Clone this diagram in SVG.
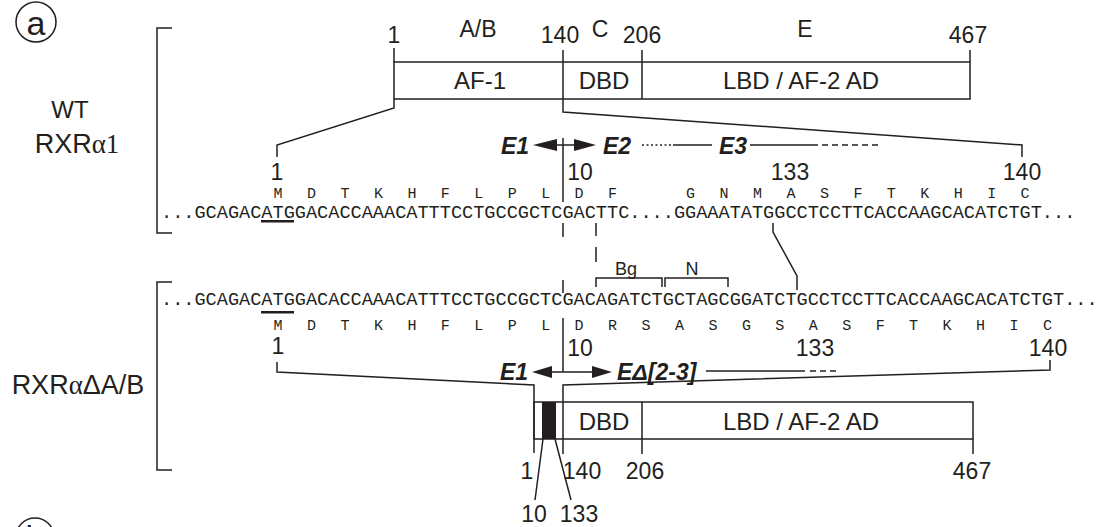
<svg xmlns="http://www.w3.org/2000/svg" width="1098" height="527" viewBox="0 0 1098 527">
<style>
.ln{fill:none;stroke:#231f20;stroke-width:1.5}
.bx{fill:#fff;stroke:#231f20;stroke-width:1.5}
.t{font-family:"Liberation Sans",Arial,sans-serif;fill:#231f20}
.n{font-size:23px;text-anchor:middle}
.bt{font-size:24px;text-anchor:middle}
.lab{font-size:24px;text-anchor:middle}
.lab2{font-size:27px;text-anchor:middle}
.e{font-size:23px;font-weight:bold;font-style:italic}
.dna{font-family:"Liberation Mono","Courier New",monospace;font-size:18.6px;fill:#231f20}
.aa{font-family:"Liberation Mono","Courier New",monospace;font-size:15px;fill:#231f20;text-anchor:middle}
.sr{font-family:"Liberation Serif","Times New Roman",serif}
.ah{fill:#231f20}
</style>

<g id="panel-a-label">
<circle cx="36" cy="22" r="20" class="ln"/>
<text x="36" y="35" class="t" font-size="34" text-anchor="middle">a</text>
</g>
<g id="panel-b-label">
<circle cx="35" cy="537" r="19" class="ln"/>
<text x="35" y="549" class="t" font-size="34" text-anchor="middle">b</text>
</g>

<g id="labels">
<text x="70" y="118" class="t lab">WT</text>
<text x="77" y="153" class="t lab2">RXR<tspan class="sr">α1</tspan></text>
<text x="78" y="394" class="t lab2">RXR<tspan class="sr">α</tspan>ΔA/B</text>
</g>

<g id="brackets">
<path class="ln" d="M172,28 H157 V233 H172"/>
<path class="ln" d="M172,282 H157 V470 H172"/>
</g>

<g id="wt-protein">
<rect x="394" y="62" width="576" height="37" class="bx"/>
<path class="ln" d="M394,48 V62 M563,50 V99 M642,50 V99 M970,50 V62"/>
<text x="480" y="89" class="t bt">AF-1</text>
<text x="604" y="89" class="t bt">DBD</text>
<text x="801" y="89" class="t bt">LBD / AF-2 AD</text>
<text x="394" y="43" class="t n">1</text>
<text x="478" y="37" class="t n">A/B</text>
<text x="560" y="43" class="t n">140</text>
<text x="600" y="37" class="t n">C</text>
<text x="642" y="43" class="t n">206</text>
<text x="805" y="37" class="t n">E</text>
<text x="968" y="43" class="t n">467</text>
</g>

<g id="wt-exons">
<text x="501" y="154" class="t e">E1</text>
<text x="603" y="154" class="t e">E2</text>
<text x="719" y="154" class="t e">E3</text>
</g>

<g id="wt-sequence">
<text x="277" y="180" class="t n">1</text>
<text x="580" y="180" class="t n">10</text>
<text x="790" y="180" class="t n">133</text>
<text x="1022" y="180" class="t n">140</text>
<text class="aa" y="198" x="278.1 311.5 345 378.4 411.9 445.3 478.8 512.2 545.7 579.1 612.6 690.6 724.1 757.5 791 824.4 857.9 891.3 924.8 958.2 991.7 1025.1">MDTKHFLPLDFGNMASFTKHIC</text>
<text class="dna" x="161" y="218" textLength="914.3" lengthAdjust="spacing">...GCAGACATGGACACCAAACATTTCCTGCCGCTCGACTTC....GGAAATATGGCCTCCTTCACCAAGCACATCTGT...</text>
<rect x="261" y="220" width="33" height="2.5" class="ah"/>
</g>

<g id="restriction-sites">
<path class="ln" d="M596,287 V278 H662 V287 M665,287 V278 H728 V287"/>
<text x="626" y="275" class="t" font-size="18" text-anchor="middle">Bg</text>
<text x="692" y="275" class="t" font-size="18" text-anchor="middle">N</text>
</g>

<g id="dab-sequence">
<text class="dna" x="161" y="305" textLength="936.6" lengthAdjust="spacing">...GCAGACATGGACACCAAACATTTCCTGCCGCTCGACAGATCTGCTAGCGGATCTGCCTCCTTCACCAAGCACATCTGT...</text>
<rect x="261" y="311" width="33" height="2.5" class="ah"/>
<text class="aa" y="330" x="278.1 311.5 345 378.4 411.9 445.3 478.8 512.2 545.7 579.1 612.6 646 679.5 712.9 746.4 779.8 813.3 846.7 880.2 913.6 947.1 980.5 1014 1047.4">MDTKHFLPLDRSASGSASFTKHIC</text>
<text x="278" y="354" class="t n">1</text>
<text x="580" y="356" class="t n">10</text>
<text x="815" y="356" class="t n">133</text>
<text x="1048" y="356" class="t n">140</text>
</g>

<g id="dab-exons">
<text x="500" y="380" class="t e">E1</text>
<text x="617" y="380" class="t e">EΔ[2-3]</text>
</g>

<g id="dab-protein">
<rect x="534" y="402" width="439" height="37" class="bx"/>
<rect x="542" y="402" width="14" height="37" fill="#231f20"/>
<path class="ln" d="M642,402 V454 M973,439 V454"/>
<text x="604" y="430" class="t bt">DBD</text>
<text x="801" y="430" class="t bt">LBD / AF-2 AD</text>
<text x="527" y="479" class="t n">1</text>
<text x="582" y="479" class="t n">140</text>
<text x="645" y="479" class="t n">206</text>
<text x="972" y="479" class="t n">467</text>
<text x="534" y="522" class="t n">10</text>
<text x="579" y="522" class="t n">133</text>
</g>

<g id="connectors">
<path class="ln" d="M394,99 V108 L277,145 V157"/>
<path class="ln" d="M563,99 V112 L1022,145 V157"/>
<path class="ln" d="M555,145 H577"/>
<polygon class="ah" points="533,145 557,139 557,151"/>
<polygon class="ah" points="596,145 574,139 574,151"/>
<path class="ln" d="M563,138 V202"/>
<path class="ln" d="M642,145 H673" stroke-dasharray="2,2.5"/>
<path class="ln" d="M673,145 H712 M750,145 H818"/>
<path class="ln" d="M822,145 H880" stroke-dasharray="6,4"/>
<path class="ln" d="M563,223 V237 M563,280 V293 M596,223 V236 M596,247 V262"/>
<path class="ln" d="M773,223 V232 L797,276 V290"/>
<path class="ln" d="M545,372 H595"/>
<polygon class="ah" points="532,372 552,366 552,378"/>
<polygon class="ah" points="612,372 592,366 592,378"/>
<path class="ln" d="M563,318 V372"/>
<path class="ln" d="M706,371 H805"/>
<path class="ln" d="M810,371 H836" stroke-dasharray="6,4"/>
<path class="ln" d="M277,362 V372 L534,385 V453"/>
<path class="ln" d="M1050,360 V370 L563,385 V454"/>
<path class="ln" d="M543,439 L535,500 M555,439 L571,500"/>
</g>
</svg>
